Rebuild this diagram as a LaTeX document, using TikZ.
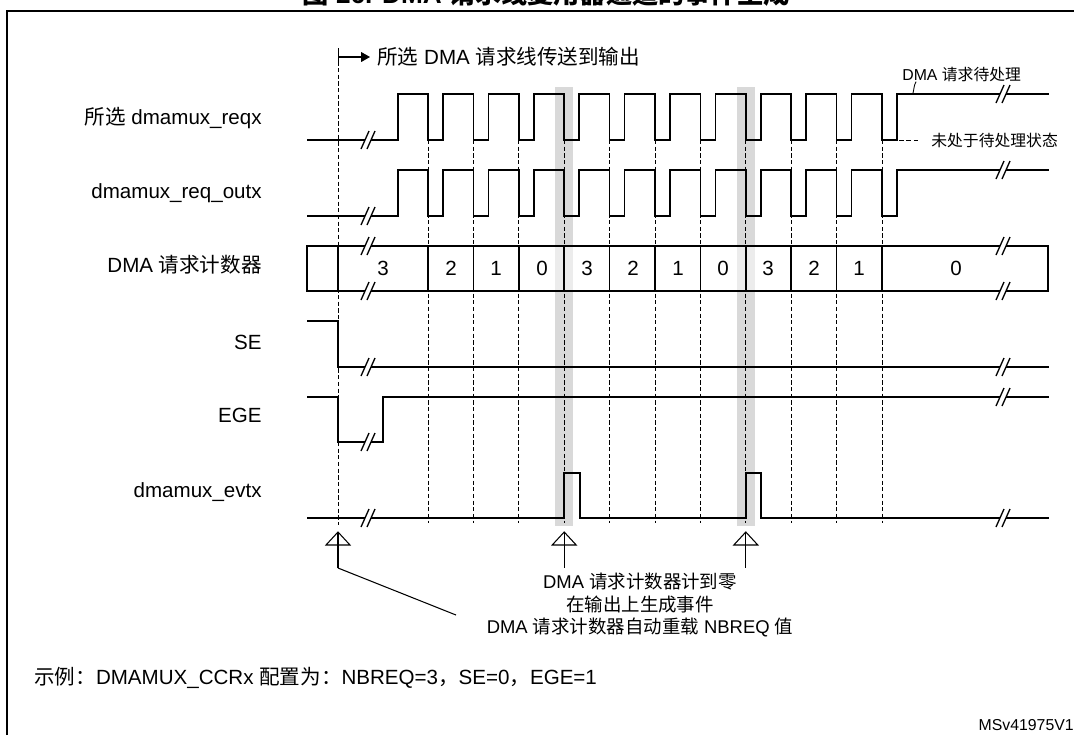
\documentclass[tikz,border=0pt]{standalone}
\usepackage{fontspec}
\setmainfont{Liberation Sans}
\newfontfamily\cjk{Noto Sans CJK SC}
\usetikzlibrary{arrows.meta}
\definecolor{barC}{HTML}{D9D9D9}
\newcommand{\zh}[1]{{\cjk #1}}

\begin{document}
\begin{tikzpicture}[
  x=0.02cm, y=-0.02cm,
  every node/.style={font=\fontsize{11.7}{14}\selectfont, inner sep=0pt},
  sig/.style={line width=0.9pt, line join=miter},
  gridln/.style={line width=0.45pt, dash pattern=on 2.4pt off 1.4pt},
  lbl/.style={anchor=east},
  cnt/.style={anchor=center},
  small/.style={font=\fontsize{9}{11}\selectfont},
  brk/.pic={
    \fill[white] (-6,9) -- (2,-9) -- (8,-9) -- (0,9) -- cycle;
    \draw[line width=0.75pt] (-6,9) -- (2,-9) (0,9) -- (8,-9);
  },
  uparr/.pic={
    \draw[line width=0.6pt, line join=miter] (-12,13) -- (0,0) -- (12,13) -- cycle;
    \draw[line width=0.6pt] (0,0) -- (0,36);
  },
]
\useasboundingbox (0,0) rectangle (1074,735);

% -- frame and title --
\draw[line width=1.1pt] (7,735) -- (7,11) -- (1074,11);
\node[anchor=base, font=\bfseries\fontsize{14.9}{16}\selectfont] (title) at (546,3)
  {\zh{图} 26. DMA \zh{请求线复用器通道的事件生成}};

% -- signal names --
\node[lbl] (lreq) at (262,118) {\zh{所选} dmamux\_reqx};
\node[lbl] (lout) at (262,193) {dmamux\_req\_outx};
\node[lbl] (lcnt) at (262,265) {DMA \zh{请求计数器}};
\node[lbl] (lse)  at (262,342) {SE};
\node[lbl] (lege) at (262,415) {EGE};
\node[lbl] (levt) at (262,492) {dmamux\_evtx};

% -- grey event bars --
\foreach \bx in {564.2,745.8}
  \fill[barC] (\bx-9,87) rectangle (\bx+9,526);

% -- counter box background --
\fill[white, fill opacity=0.5] (307,246) rectangle (1048,291);

% -- dashed time marks --
\draw[gridln] (338,48) -- (338,525);
\foreach \i in {0,...,10}
  \draw[gridln] ({428+45.4*\i},140) -- ({428+45.4*\i},523);

% -- request lines --
\foreach \hi/\lo in {94/140,170/216}{
  \draw[sig] (307,\lo) -- (398,\lo) -- (398,\hi)
    \foreach \i in {0,...,10}{ -- ({428+45.4*\i},\hi) -- ++(0,46) -- ++(15,0) -- ++(0,-46)}
    -- (1049,\hi);
  \pic at (367,\lo) {brk};
  \pic at (1002,\hi) {brk};
}

% -- request counter --
\draw[sig] (307,246) rectangle (1048,291);
\draw[sig] (338,246) -- (338,291);
\foreach \i in {0,...,10}
  \draw[sig] ({428+45.4*\i},246) -- ({428+45.4*\i},291);
\foreach \x/\v [count=\k] in {383/3,451/2,496/1,542/0,587/3,633/2,678/1,723/0,768/3,814/2,859/1,956/0}
  \node[cnt] (c\k) at (\x,268.5) {\v};
\foreach \px in {367,1002}{
  \pic at (\px,246) {brk};
  \pic at (\px,291) {brk};
}

% -- SE --
\draw[sig] (307,321) -- (338,321) -- (338,367) -- (1049,367);
\pic at (367,367) {brk};
\pic at (1002,367) {brk};

% -- EGE --
\draw[sig] (307,397) -- (338,397) -- (338,442) -- (383,442) -- (383,397) -- (1049,397);
\pic at (367,442) {brk};
\pic at (1002,397) {brk};

% -- event output --
\draw[sig] (307,518) -- (564.2,518) -- (564.2,473) -- (580,473) -- (580,518)
  -- (745.8,518) -- (745.8,473) -- (761,473) -- (761,518) -- (1049,518);
\pic at (367,518) {brk};
\pic at (1002,518) {brk};

% -- top arrow: request routed to output --
\coordinate (pass0) at (338,57);
\node[anchor=west, inner sep=4pt] (pass) at (370,57) {\zh{所选} DMA \zh{请求线传送到输出}};
\draw[line width=0.6pt, {Bar[width=9.5pt]}-{Triangle[length=5pt,width=5.5pt]}] (pass0) -- (pass.west);

% -- pending notes --
\node[small, anchor=west] (pend) at (902,74) {DMA \zh{请求待处理}};
\coordinate (pendpt) at (913,93);
\draw[line width=0.5pt] (pendpt) to[out=75,in=240] ([xshift=16\pgflinewidth]pend.south west);
\coordinate (nopend0) at (899,140);
\node[small, anchor=west] (nopend) at (931,140) {\zh{未处于待处理状态}};
\draw[line width=0.5pt, dash pattern=on 2.6pt off 1.6pt] (nopend0) -- ([xshift=-7]nopend.west);

% -- bottom markers --
\pic at (338,532) {uparr};
\pic at (564.2,532) {uparr};
\pic at (745.8,532) {uparr};
\coordinate (a1) at (338,568);
\coordinate (a1end) at (456,615);
\draw[line width=0.6pt] (a1) -- (a1end);
\node[align=center, font=\fontsize{10.5}{12.8}\selectfont] (zero) at (640,605)
  {DMA \zh{请求计数器计到零}\\\zh{在输出上生成事件}\\DMA \zh{请求计数器自动重载} NBREQ \zh{值}};

% -- footnote --
\node[anchor=west] (eg) at (34,678)
  {\zh{示例：}DMAMUX\_CCRx \zh{配置为：}NBREQ=3\zh{，}SE=0\zh{，}EGE=1};
\node[small, anchor=east] (ref) at (1074,725) {MSv41975V1};

\end{tikzpicture}
\end{document}
